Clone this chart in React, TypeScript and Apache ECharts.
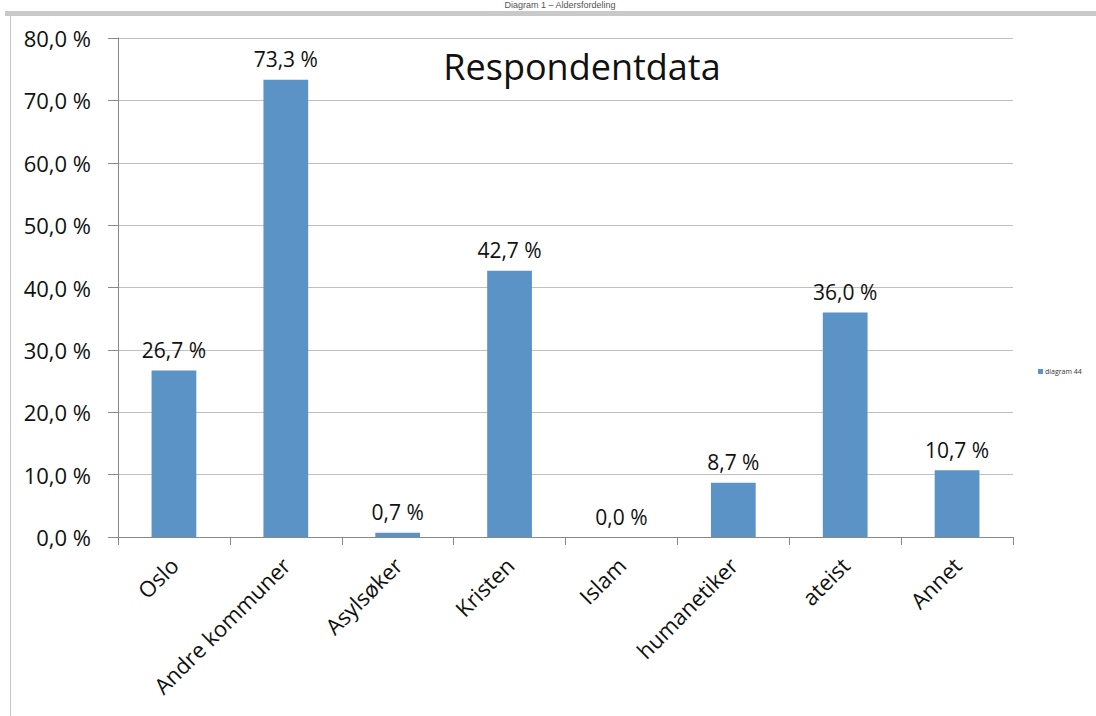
import React, { useEffect, useRef } from "react";
import * as echarts from "echarts";

const categories = ["Oslo", "Andre kommuner", "Asylsøker", "Kristen", "Islam", "humanetiker", "ateist", "Annet"];
const values = [26.7, 73.3, 0.7, 42.7, 0.0, 8.7, 36.0, 10.7];
const seriesName = "diagram 44";
const titleText = "Respondentdata";
const captionText = "Diagram 1 – Aldersfordeling";

const fmt = (v: number) => v.toFixed(1).replace(".", ",") + " %";

export default function App() {
  const ref = useRef<HTMLDivElement>(null);
  useEffect(() => {
    const chart = echarts.init(ref.current!, undefined, { renderer: "svg" });
    const font = "'Open Sans', sans-serif";
    chart.setOption({
      animation: false,
      backgroundColor: "#ffffff",
      textStyle: { fontFamily: font },
      graphic: [
        { type: "rect", shape: { x: 5, y: 11, width: 1091, height: 5 }, style: { fill: "#c9c9c9" } },
        { type: "line", shape: { x1: 10.5, y1: 16, x2: 10.5, y2: 716 }, style: { stroke: "#c4c4c4", lineWidth: 1 } },
        {
          type: "text",
          x: 560,
          y: 0,
          style: {
            text: captionText,
            fontSize: 9,
            fontFamily: "'Liberation Sans', Arial, sans-serif",
            fill: "#555",
            align: "center",
            verticalAlign: "top",
          },
        },
        {
          type: "text",
          x: 582,
          y: 66,
          style: {
            text: titleText,
            fontSize: 36,
            fontFamily: font,
            fill: "#111",
            align: "center",
            verticalAlign: "middle",
          },
        },
      ],
      legend: {
        show: true,
        left: 1033,
        top: 363,
        itemWidth: 5,
        itemHeight: 5,
        itemGap: 2,
        textStyle: { fontSize: 7, color: "#333", fontFamily: font, padding: [0, 0, 0, -3] },
        data: [{ name: seriesName, icon: "rect" }],
      },
      grid: { left: 118, right: 83, top: 38, bottom: 179, containLabel: false },
      xAxis: {
        type: "category",
        data: categories,
        boundaryGap: true,
        axisLine: { lineStyle: { color: "#888", width: 1 } },
        axisTick: { show: true, length: 8, lineStyle: { color: "#888" } },
        axisLabel: { rotate: 45, margin: 24, fontSize: 22, color: "#111", fontFamily: font, interval: 0 },
      },
      yAxis: {
        type: "value",
        min: 0,
        max: 80,
        interval: 10,
        axisLine: { show: true, lineStyle: { color: "#888", width: 1 } },
        axisTick: { show: true, length: 10, lineStyle: { color: "#888" } },
        axisLabel: { margin: 27, fontSize: 22, color: "#111", fontFamily: font, formatter: (v: number) => fmt(v) },
        splitLine: { show: true, lineStyle: { color: "#c0c0c0", width: 1 } },
      },
      series: [
        {
          name: seriesName,
          type: "bar",
          data: values,
          barWidth: "40%",
          itemStyle: { color: "#5b93c6" },
          label: {
            show: true,
            position: "top",
            distance: 10,
            fontSize: 21,
            color: "#111",
            fontFamily: font,
            formatter: (p: any) => fmt(p.value),
          },
        },
      ],
    });
    return () => chart.dispose();
  }, []);
  return (
    <div
      ref={ref}
      style={{ position: "fixed", left: 0, top: 0, width: 1096, height: 716 }}
    />
  );
}
